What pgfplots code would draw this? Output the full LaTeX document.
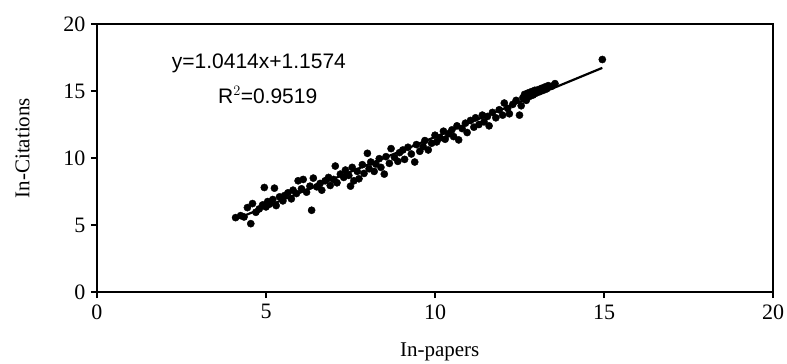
\documentclass[border=0pt]{standalone}
\usepackage{fontspec}
\setmainfont{Liberation Serif}
\newfontfamily\arial{Liberation Sans}
\usepackage{pgfplots}
\pgfplotsset{compat=1.18}
\begin{document}
\begin{tikzpicture}
\begin{axis}[
  name=ax,
  scale only axis,
  width=676bp, height=268bp,
  xmin=0, xmax=20, ymin=0, ymax=20,
  xtick={0,5,10,15,20}, ytick={0,5,10,15,20},
  xtick pos=lower, ytick pos=left,
  tick align=outside,
  major tick length=6bp,
  tick style={line width=1.6bp, black},
  axis line style={line width=1.6bp},
  /pgf/number format/assume math mode=true,
  ticklabel style={font=\fontsize{22bp}{25bp}\selectfont},
  xticklabel style={yshift=-3bp},
  yticklabel style={xshift=-2bp},
  xlabel={In-papers},
  ylabel={In-Citations},
  every axis x label/.style={at={(axis description cs:0.507,-0.222)}, anchor=center, font=\fontsize{21bp}{24bp}\selectfont},
  every axis y label/.style={at={(axis description cs:-0.110,0.537)}, anchor=center, rotate=90, font=\fontsize{21bp}{24bp}\selectfont},
  clip=false,
]
\addplot[only marks, mark=*, mark size=3.6bp, black] coordinates {
(4.10,5.55) (4.25,5.70) (4.35,5.60) (4.45,6.30) (4.55,5.10) (4.60,6.60)
(4.70,5.95) (4.80,6.20) (4.90,6.50) (4.95,7.80) (5.00,6.35) (5.05,6.75)
(5.10,6.55) (5.20,6.90) (5.25,7.75) (5.30,6.45) (5.40,7.10) (5.50,6.80)
(5.55,7.20) (5.65,7.40) (5.75,6.95) (5.80,7.60) (5.90,7.35) (5.95,8.30)
(6.05,7.70) (6.10,8.40) (6.20,7.45) (6.30,7.90) (6.35,6.10) (6.40,8.50)
(6.50,7.85) (6.60,8.10) (6.65,7.60) (6.75,8.30) (6.85,8.55) (6.90,7.95)
(7.00,8.40) (7.05,9.40) (7.10,8.15) (7.20,8.80) (7.30,8.55) (7.35,9.10)
(7.45,8.70) (7.50,7.90) (7.55,9.30) (7.60,8.30) (7.70,9.00) (7.75,8.45)
(7.85,9.50) (7.90,8.85) (8.00,10.35) (8.05,9.20) (8.10,9.70) (8.20,9.00)
(8.25,9.55) (8.35,9.95) (8.40,9.30) (8.50,8.80) (8.55,10.10) (8.65,9.60)
(8.70,10.70) (8.80,10.05) (8.90,9.75) (8.95,10.40) (9.05,10.60) (9.10,9.90)
(9.20,10.80) (9.30,10.30) (9.40,9.70) (9.45,11.00) (9.55,10.50) (9.65,10.85)
(9.70,11.30) (9.80,10.60) (9.90,11.10) (10.00,11.70) (10.05,11.20) (10.15,11.50)
(10.25,12.00) (10.30,11.40) (10.40,11.80) (10.50,12.10) (10.55,11.60) (10.65,12.40)
(10.70,11.35) (10.80,12.20) (10.90,12.60) (10.95,11.90) (11.05,12.80) (11.15,12.30)
(11.20,13.00) (11.30,12.50) (11.40,13.20) (11.45,12.70) (11.55,13.10) (11.60,12.40)
(11.70,13.40) (11.80,13.00) (11.90,13.60) (12.00,13.20) (12.05,14.10) (12.15,13.70)
(12.20,13.30) (12.30,14.00) (12.40,14.30) (12.50,13.20) (12.55,13.90) (12.60,14.50)
(12.65,14.75) (12.70,14.30) (12.75,14.85) (12.80,14.60) (12.85,14.95) (12.90,14.70)
(12.95,15.05) (13.00,14.85) (13.05,15.10) (13.10,14.95) (13.15,15.20) (13.20,15.05)
(13.25,15.30) (13.30,15.15) (13.35,15.40) (13.45,15.35) (13.55,15.55)
(14.95,17.35)
};
\addplot[black, line width=2.2bp] coordinates {(4.10,5.427) (14.95,16.726)};
\node[font=\arial\fontsize{21bp}{24bp}\selectfont] at (axis cs:4.79,17.1) {y=1.0414x+1.1574};
\node[font=\arial\fontsize{21bp}{24bp}\selectfont] at (axis cs:5.05,14.7) {R$^2$=0.9519};
\end{axis}
\pgfresetboundingbox
\path ([shift={(-97bp,-72bp)}]ax.south west) rectangle ([shift={(14bp,24bp)}]ax.north east);
\end{tikzpicture}
\end{document}
